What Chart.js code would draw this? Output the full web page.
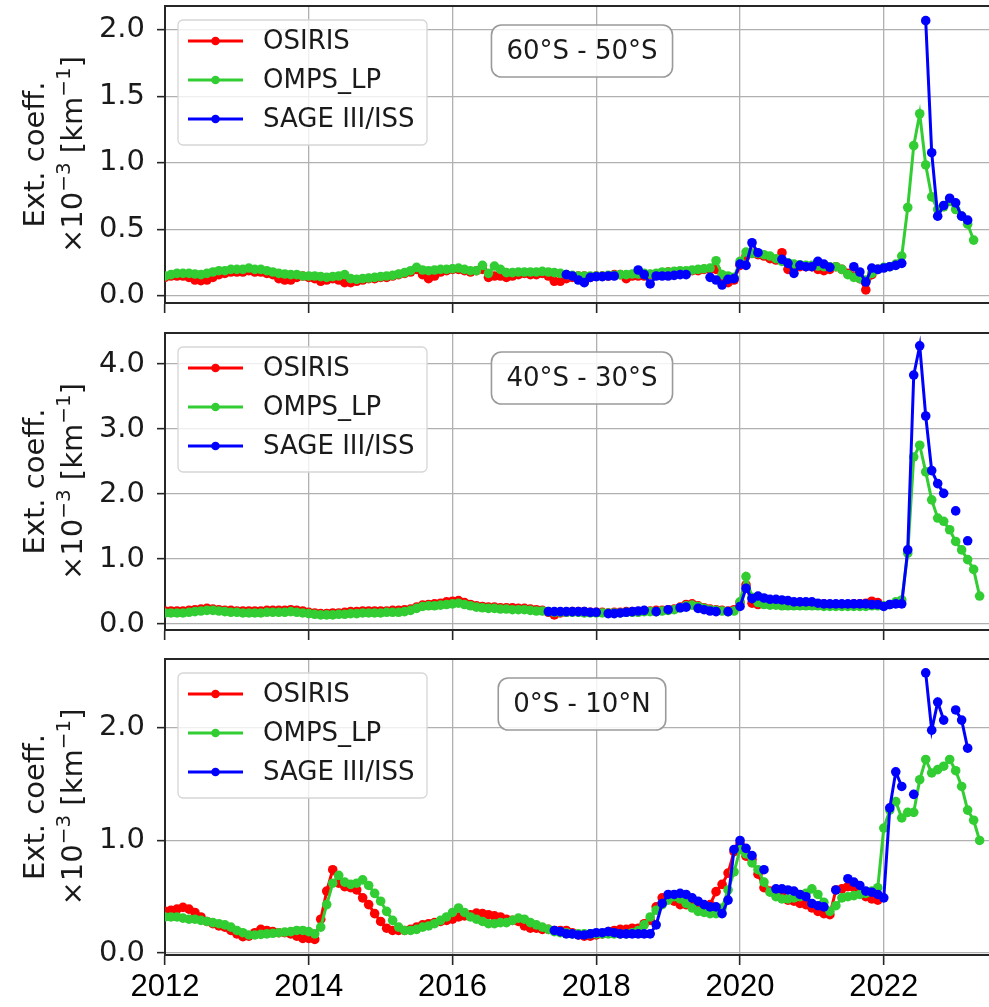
<!DOCTYPE html>
<html>
<head>
<meta charset="utf-8">
<title>Extinction coefficient time series</title>
<script src="https://cdn.jsdelivr.net/npm/chart.js@4.4.1/dist/chart.umd.min.js"></script>
<style>
  html, body { margin: 0; padding: 0; background: #fff; overflow: hidden; }
  #wrap  { position: relative; width: 989px; height: 1007px; overflow: hidden; }
  .panel { position: absolute; left: 0; width: 1000px; }
  .panel canvas { display: block; }
</style>
</head>
<body>
<div id="wrap">
  <div class="panel" style="top:0;height:320px"><canvas id="p6050" width="1000" height="320"></canvas></div>
  <div class="panel" style="top:320px;height:326px"><canvas id="p4030" width="1000" height="326"></canvas></div>
  <div class="panel" style="top:646px;height:361px"><canvas id="p0010" width="1000" height="361"></canvas></div>
</div>

<script>
/* ── Labels & ticks ─────────────────────────────────────── */

const SERIES_LABELS = ['OSIRIS', 'OMPS_LP', 'SAGE III/ISS'];
const REGION_LABELS = ['60°S - 50°S', '40°S - 30°S', '0°S - 10°N'];

const X_TICKS        = [2012, 2014, 2016, 2018, 2020, 2022];
const Y_TICKS_6050   = [0, 0.5, 1, 1.5, 2];
const Y_TICKS_4030   = [0, 1, 2, 3, 4];
const Y_TICKS_0010   = [0, 1, 2];

// first month of each monthly record [year, month]
const OSIRIS_START    = [2012, 1];
const OMPS_START      = [2012, 1];
const SAGE_START_6050 = [2017, 8];
const SAGE_START_4030 = [2017, 5];
const SAGE_START_0010 = [2017, 6];

/* ── Monthly means, 60°S-50°S ───────────────────────────── */

const OSIRIS_6050 = [
  0.14,0.15,0.15,0.15,0.14,0.12,0.115,0.12,0.14,0.16,0.17,0.18,
  0.18,0.18,0.19,0.18,0.18,0.17,0.16,0.13,0.12,0.12,0.14,0.15,
  0.14,0.13,0.11,0.12,0.13,0.12,0.10,0.10,0.11,0.12,0.13,0.13,
  0.14,0.14,0.15,0.16,0.17,0.18,0.20,0.16,0.13,0.15,0.18,0.19,
  0.20,0.20,0.19,0.18,0.19,0.20,0.14,0.15,0.15,0.14,0.15,0.16,
  0.17,0.16,0.16,0.17,0.15,0.11,0.11,0.13,0.14,0.15,0.15,0.14,
  0.15,0.15,0.15,0.16,0.16,0.13,0.15,0.15,0.15,0.16,0.16,0.17,
  0.18,0.18,0.17,0.18,0.19,0.19,0.20,0.20,0.20,0.14,0.10,0.12,
  0.23,0.30,0.32,0.31,0.30,0.28,0.27,0.325,0.20,0.21,0.22,0.22,
  0.22,0.20,0.19,0.20,0.22,0.20,0.17,0.15,0.13,0.045,0.16,0.20
];

const OMPS_6050 = [
  0.15,0.16,0.17,0.17,0.17,0.165,0.16,0.17,0.18,0.19,0.19,0.20,
  0.20,0.20,0.21,0.20,0.20,0.19,0.18,0.17,0.165,0.16,0.16,0.15,
  0.15,0.15,0.145,0.14,0.145,0.15,0.16,0.13,0.125,0.13,0.135,0.14,
  0.145,0.15,0.155,0.165,0.175,0.19,0.215,0.195,0.19,0.195,0.20,0.20,
  0.205,0.21,0.20,0.19,0.19,0.23,0.17,0.225,0.20,0.175,0.175,0.18,
  0.18,0.18,0.18,0.185,0.18,0.175,0.17,0.16,0.155,0.15,0.15,0.15,
  0.15,0.15,0.155,0.155,0.16,0.16,0.165,0.165,0.17,0.165,0.17,0.18,
  0.18,0.185,0.19,0.19,0.195,0.20,0.205,0.21,0.265,0.16,0.15,0.14,
  0.26,0.33,0.32,0.32,0.31,0.30,0.28,0.26,0.25,0.24,0.235,0.23,
  0.23,0.225,0.22,0.22,0.22,0.20,0.16,0.14,0.13,0.12,0.17,0.20,
  0.215,0.22,0.24,0.30,0.665,1.13,1.37,0.985,0.745,0.65,0.67,0.71,
  0.65,0.60,0.54,0.42
];

const SAGE_6050 = [
  0.16,0.15,0.12,0.10,0.14,
  0.145,0.145,0.15,0.15,null,null,null,0.195,0.16,0.09,0.15,0.15,
  0.15,0.155,0.16,0.16,null,null,null,0.14,0.12,0.082,0.125,0.13,
  0.24,0.23,0.40,0.325,null,null,null,0.275,0.245,0.17,0.23,0.22,
  0.22,0.26,0.24,0.215,null,null,null,0.22,0.18,0.105,0.21,0.20,
  0.21,0.22,0.23,0.245,null,null,null,2.07,1.077,0.60,0.68,0.735,
  0.70,0.60,0.57
];

/* ── Monthly means, 40°S-30°S ───────────────────────────── */

const OSIRIS_4030 = [
  0.20,0.20,0.20,0.20,0.21,0.22,0.23,0.24,0.23,0.22,0.21,0.21,
  0.20,0.20,0.20,0.20,0.20,0.21,0.21,0.21,0.21,0.22,0.21,0.20,
  0.18,0.17,0.16,0.16,0.17,0.17,0.18,0.19,0.19,0.20,0.20,0.20,
  0.20,0.20,0.21,0.21,0.22,0.23,0.26,0.29,0.30,0.31,0.32,0.34,
  0.35,0.36,0.33,0.30,0.28,0.27,0.26,0.26,0.25,0.25,0.25,0.24,
  0.24,0.23,0.22,0.21,0.18,0.14,0.17,0.18,0.19,0.19,0.19,0.18,
  0.18,0.18,0.17,0.18,0.18,0.19,0.19,0.19,0.20,0.20,0.21,0.21,
  0.22,0.23,0.26,0.30,0.31,0.28,0.25,0.23,0.22,0.21,0.20,0.22,
  0.33,0.60,0.32,0.30,0.32,0.33,0.33,0.32,0.33,0.32,0.32,0.32,
  0.32,0.31,0.31,0.30,0.30,0.30,0.30,0.31,0.31,0.32,0.35,0.33
];

const OMPS_4030 = [
  0.17,0.17,0.17,0.17,0.18,0.19,0.20,0.21,0.21,0.20,0.19,0.18,
  0.18,0.17,0.17,0.17,0.17,0.18,0.18,0.18,0.18,0.19,0.18,0.17,
  0.16,0.15,0.14,0.14,0.14,0.15,0.15,0.16,0.16,0.17,0.17,0.17,
  0.17,0.18,0.18,0.18,0.19,0.21,0.24,0.27,0.28,0.28,0.29,0.30,
  0.31,0.32,0.30,0.28,0.26,0.25,0.24,0.24,0.23,0.23,0.22,0.22,
  0.22,0.21,0.20,0.20,0.19,0.18,0.18,0.18,0.18,0.18,0.17,0.17,
  0.17,0.17,0.17,0.17,0.17,0.18,0.18,0.18,0.19,0.19,0.19,0.20,
  0.21,0.22,0.25,0.28,0.29,0.27,0.24,0.22,0.21,0.20,0.19,0.20,
  0.34,0.73,0.41,0.33,0.30,0.29,0.29,0.28,0.28,0.28,0.28,0.28,
  0.28,0.28,0.27,0.27,0.27,0.27,0.27,0.27,0.27,0.27,0.28,0.28,
  0.28,0.30,0.34,0.37,1.09,2.57,2.75,2.34,1.91,1.63,1.58,1.45,
  1.27,1.14,0.99,0.84,0.43
];

const SAGE_4030 = [
  0.19,0.19,0.19,0.19,0.19,0.19,0.19,0.18,
  0.18,null,0.16,0.16,0.17,0.18,0.19,0.20,0.21,null,0.19,null,
  0.22,null,0.25,0.26,null,0.24,0.22,0.20,0.19,null,0.19,null,
  0.27,0.55,0.39,0.43,0.40,0.38,0.38,0.37,0.36,0.34,0.34,0.34,
  0.34,0.32,0.31,0.31,0.31,0.31,0.31,0.31,0.31,0.31,0.30,0.30,
  0.27,0.30,0.31,0.31,1.14,3.83,4.28,3.20,2.36,2.16,2.01,null,
  1.74,null,1.28
];

/* ── Monthly means, 0°-10°N ─────────────────────────────── */

const OSIRIS_0010 = [
  0.37,0.38,0.39,0.405,0.39,0.36,0.32,0.28,0.26,0.24,0.23,0.20,
  0.17,0.145,0.15,0.18,0.21,0.20,0.19,0.18,0.18,0.17,0.15,0.13,
  0.13,0.12,0.30,0.55,0.74,0.62,0.59,0.58,0.56,0.49,0.43,0.35,
  0.28,0.22,0.20,0.20,0.20,0.21,0.23,0.25,0.26,0.27,0.28,0.29,
  0.30,0.32,0.33,0.34,0.355,0.35,0.34,0.33,0.32,0.30,0.29,0.28,
  0.24,0.22,0.22,0.21,0.21,0.20,0.20,0.20,0.18,0.16,0.15,0.15,
  0.16,0.17,0.19,0.20,0.21,0.21,0.22,0.22,0.26,0.29,0.41,0.49,
  0.50,0.46,0.43,0.43,0.43,0.42,0.42,0.43,0.545,0.61,0.71,0.90,
  0.97,0.86,0.83,0.70,0.58,0.55,0.52,0.50,0.47,0.46,0.44,0.43,
  0.40,0.37,0.35,0.34,0.56,0.57,0.59,0.58,0.55,0.50,0.48,0.47
];

const OMPS_0010 = [
  0.32,0.32,0.32,0.31,0.30,0.30,0.29,0.28,0.27,0.26,0.25,0.23,
  0.20,0.18,0.16,0.16,0.165,0.17,0.175,0.18,0.185,0.19,0.20,0.20,
  0.19,0.17,0.23,0.43,0.62,0.69,0.63,0.61,0.62,0.65,0.60,0.53,
  0.46,0.37,0.29,0.23,0.20,0.20,0.21,0.23,0.24,0.26,0.29,0.32,
  0.36,0.40,0.36,0.32,0.30,0.28,0.26,0.26,0.27,0.27,0.29,0.31,
  0.30,0.27,0.25,0.23,0.21,0.19,0.18,0.18,0.17,0.17,0.17,0.17,
  0.17,0.17,0.17,0.17,0.17,0.17,0.18,0.20,0.25,0.32,0.38,0.43,
  0.47,0.50,0.48,0.44,0.40,0.37,0.36,0.35,0.35,0.40,0.56,0.72,
  0.92,0.88,0.80,0.74,0.63,0.54,0.50,0.48,0.48,0.49,0.50,0.53,
  0.57,0.52,0.45,0.37,0.42,0.49,0.50,0.51,0.52,0.53,0.55,0.58,
  1.11,1.27,1.345,1.20,1.25,1.25,1.54,1.72,1.60,1.63,1.66,1.72,
  1.62,1.48,1.27,1.18,1.00
];

const SAGE_0010 = [
  0.20,0.19,0.17,0.17,0.16,0.16,0.17,
  0.18,0.18,0.19,0.18,0.17,0.17,0.17,0.17,0.17,0.17,0.25,0.44,
  0.52,0.52,0.53,0.52,0.49,0.46,0.43,0.41,0.41,0.35,0.47,0.92,
  1.00,0.93,0.865,null,0.74,null,0.57,0.57,0.56,0.55,0.52,0.50,
  0.44,0.42,0.41,null,0.56,null,0.66,0.63,0.60,0.55,0.54,0.52,
  0.49,1.29,1.61,1.48,null,1.41,null,2.49,1.98,2.23,2.07,null,
  2.16,2.07,1.82
];


/* ── Style ──────────────────────────────────────────────── */

const STYLE = {
  colors:   ['#ff0000', '#32cd32', '#0000ff'],
  axis:     '#262626',
  grid:     '#b0b0b0',
  text:     '#1a1a1a',
  font:     '"DejaVu Sans", sans-serif',
  yearFont: '"Liberation Sans", Arial, sans-serif',
  xMax:     2023.55,
  lineWidth: 3,
  pointRadius: 4.8
};


/* ── Helpers ────────────────────────────────────────────── */

function toPoints(values, start) {
  const [year, month] = start;
  return values.map((v, i) => ({ x: year + (month - 1 + i) / 12, y: v }));
}

function roundRect(ctx, x, y, w, h, r) {
  ctx.beginPath();
  ctx.moveTo(x + r, y);
  ctx.arcTo(x + w, y, x + w, y + h, r);
  ctx.arcTo(x + w, y + h, x, y + h, r);
  ctx.arcTo(x, y + h, x, y, r);
  ctx.arcTo(x, y, x + w, y, r);
  ctx.closePath();
}


/* ── Panel decorations: top spine, y title, legend, region box ── */

const panelDecor = {
  id: 'panelDecor',
  afterDraw(chart, args, opts) {
    const { ctx, chartArea: a } = chart;

    // top spine
    ctx.save();
    ctx.strokeStyle = STYLE.axis;
    ctx.lineWidth = 2;
    ctx.beginPath();
    ctx.moveTo(a.left, a.top);
    ctx.lineTo(a.right, a.top);
    ctx.stroke();
    ctx.restore();

    drawYTitle(ctx, a);
    drawLegend(ctx, a, chart.data.datasets);
    drawRegion(ctx, a, opts.region);
  }
};

function drawYTitle(ctx, a) {
  const size = 29;
  const cy = (a.top + a.bottom) / 2;

  ctx.save();
  ctx.translate(0, cy);
  ctx.rotate(-Math.PI / 2);
  ctx.fillStyle = STYLE.text;
  ctx.textBaseline = 'alphabetic';
  ctx.textAlign = 'center';
  ctx.font = `${size}px ${STYLE.font}`;
  ctx.fillText('Ext. coeff.', 0, 44);

  // second line: ×10^-3 [km^-1] with raised exponents
  const parts = [['×10', 0], ['−3', 1], [' [km', 0], ['−1', 1], [']', 0]];
  const fontOf = sup => `${sup ? Math.round(size * 0.7) : size}px ${STYLE.font}`;
  let total = 0;
  parts.forEach(([t, sup]) => { ctx.font = fontOf(sup); total += ctx.measureText(t).width; });
  let x = -total / 2;
  ctx.textAlign = 'left';
  parts.forEach(([t, sup]) => {
    ctx.font = fontOf(sup);
    ctx.fillText(t, x, 82 - (sup ? size * 0.42 : 0));
    x += ctx.measureText(t).width;
  });
  ctx.restore();
}

function drawLegend(ctx, a, datasets) {
  const x = a.left + 13, y = a.top + 14, w = 249, h = 125;

  ctx.save();
  roundRect(ctx, x, y, w, h, 5);
  ctx.fillStyle = 'rgba(255,255,255,0.8)';
  ctx.fill();
  ctx.strokeStyle = '#d6d6d6';
  ctx.lineWidth = 1.3;
  ctx.stroke();

  ctx.font = `26px ${STYLE.font}`;
  ctx.textBaseline = 'middle';
  ctx.textAlign = 'left';

  datasets.forEach((ds, i) => {
    const cy = y + 21 + i * 39;
    ctx.strokeStyle = ds.borderColor;
    ctx.lineWidth = STYLE.lineWidth;
    ctx.beginPath();
    ctx.moveTo(x + 10, cy);
    ctx.lineTo(x + 65, cy);
    ctx.stroke();

    ctx.fillStyle = ds.borderColor;
    ctx.beginPath();
    ctx.arc(x + 37.5, cy, 4.3, 0, Math.PI * 2);
    ctx.fill();

    ctx.fillStyle = STYLE.text;
    ctx.fillText(ds.label, x + 85, cy + 1);
  });
  ctx.restore();
}

function drawRegion(ctx, a, label) {
  if (!label) return;
  ctx.save();
  ctx.font = `26px ${STYLE.font}`;
  const tw = ctx.measureText(label).width;
  const cx = 582, w = tw + 30, h = 52, y = a.top + 19;

  roundRect(ctx, cx - w / 2, y, w, h, 10);
  ctx.fillStyle = 'rgba(255,255,255,0.85)';
  ctx.fill();
  ctx.strokeStyle = '#9a9a9a';
  ctx.lineWidth = 1.6;
  ctx.stroke();

  ctx.fillStyle = STYLE.text;
  ctx.textAlign = 'center';
  ctx.textBaseline = 'middle';
  ctx.fillText(label, cx, y + h / 2 + 1);
  ctx.restore();
}


/* ── Chart builder ──────────────────────────────────────── */

function makeDataset(label, values, start, color, order) {
  return {
    label,
    data: toPoints(values, start),
    borderColor: color,
    backgroundColor: color,
    borderWidth: STYLE.lineWidth,
    pointRadius: STYLE.pointRadius,
    pointBorderWidth: 0,
    pointHoverRadius: STYLE.pointRadius,
    tension: 0,
    order
  };
}

function initPanel(id, p) {
  new Chart(document.getElementById(id), {
    type: 'line',
    data: {
      datasets: [
        makeDataset(SERIES_LABELS[0], p.osiris, OSIRIS_START, STYLE.colors[0], 2),
        makeDataset(SERIES_LABELS[1], p.omps,   OMPS_START,   STYLE.colors[1], 1),
        makeDataset(SERIES_LABELS[2], p.sage,   p.sageStart,  STYLE.colors[2], 0)
      ]
    },
    options: {
      responsive: false,
      animation: false,
      spanGaps: false,
      layout: { padding: { top: p.padTop, left: 0, right: 0, bottom: 0 } },
      plugins: {
        legend:  { display: false },
        tooltip: { enabled: false },
        panelDecor: { region: p.region }
      },
      scales: {
        x: {
          type: 'linear',
          min: 2012,
          max: STYLE.xMax,
          afterBuildTicks: s => { s.ticks = X_TICKS.map(v => ({ value: v })); },
          afterFit: s => {
            s.height = p.xHeight;
            s.paddingLeft = 0;
            s.paddingRight = 0;
          },
          grid:   { color: STYLE.grid, lineWidth: 1.3, tickLength: 10, tickColor: STYLE.axis, tickWidth: 1.6 },
          border: { color: STYLE.axis, width: 2 },
          ticks: {
            maxRotation: 0,
            padding: 4,
            color: '#000',
            font: { family: STYLE.yearFont, size: 31 },
            callback: v => p.yearLabels ? String(v) : ''
          }
        },
        y: {
          min: p.yMin,
          max: p.yMax,
          afterBuildTicks: s => { s.ticks = p.yTicks.map(v => ({ value: v })); },
          afterFit: s => {
            s.width = 165;
            s.paddingTop = 0;
            s.paddingBottom = 0;
          },
          grid:   { color: STYLE.grid, lineWidth: 1.3, tickLength: 8, tickColor: STYLE.axis, tickWidth: 1.6 },
          border: { color: STYLE.axis, width: 2 },
          ticks: {
            padding: 12,
            color: STYLE.text,
            font: { family: STYLE.font, size: 29 },
            callback: v => Number(v).toFixed(1)
          }
        }
      }
    },
    plugins: [panelDecor]
  });
}


/* ── Init ───────────────────────────────────────────────── */

initPanel('p6050', {
  osiris: OSIRIS_6050, omps: OMPS_6050, sage: SAGE_6050, sageStart: SAGE_START_6050,
  region: REGION_LABELS[0], yTicks: Y_TICKS_6050, yMin: -0.053, yMax: 2.18,
  padTop: 6, xHeight: 17, yearLabels: false
});

initPanel('p4030', {
  osiris: OSIRIS_4030, omps: OMPS_4030, sage: SAGE_4030, sageStart: SAGE_START_4030,
  region: REGION_LABELS[1], yTicks: Y_TICKS_4030, yMin: -0.092, yMax: 4.477,
  padTop: 13, xHeight: 16, yearLabels: false
});

initPanel('p0010', {
  osiris: OSIRIS_0010, omps: OMPS_0010, sage: SAGE_0010, sageStart: SAGE_START_0010,
  region: REGION_LABELS[2], yTicks: Y_TICKS_0010, yMin: -0.018, yMax: 2.613,
  padTop: 13, xHeight: 52, yearLabels: true
});
</script>
</body>
</html>
